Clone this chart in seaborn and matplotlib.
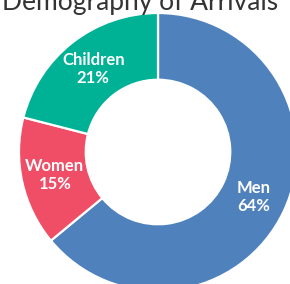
import numpy as np
import matplotlib
matplotlib.use("Agg")
import matplotlib.pyplot as plt
import seaborn as sns


# -----------------------
# data
# -----------------------

groups = ["Men", "Women", "Children"]
shares = [64, 15, 21]
colors = ["#4f81bd", "#f04d66", "#00b295"]

TITLE = "Demography of Arrivals"


def main():

    sns.set_theme(style="white")
    plt.rcParams["font.family"] = ["Lato", "DejaVu Sans"]

    fig = plt.figure(figsize=(2.90, 2.84), dpi=100)

    ax = fig.add_axes([0, 0, 1, 1])

    wedges, _ = ax.pie(
        shares,
        colors=colors,
        startangle=90,
        counterclock=False,
        radius=1,
        wedgeprops=dict(width=0.48, edgecolor="white", linewidth=1.6),
    )

    # center of the donut sits at (158, 152) px, outer radius 139 px
    ax.set_aspect("auto")
    ax.set_xlim(-158 / 139, (290 - 158) / 139)
    ax.set_ylim(-(284 - 152) / 139, 152 / 139)
    ax.axis("off")

    total = sum(shares)

    for w, name, val in zip(wedges, groups, shares):
        mid = np.deg2rad((w.theta1 + w.theta2) / 2)
        r = 0.76
        ax.text(
            r * np.cos(mid),
            r * np.sin(mid),
            f"{name}\n{round(100 * val / total)}%",
            ha="center",
            va="center",
            color="white",
            fontsize=12,
            fontweight="bold",
            linespacing=1.15,
        )

    fig.text(
        140 / 290,
        1 - 10 / 284,
        TITLE,
        ha="center",
        va="baseline",
        fontsize=19,
        color="#333333",
    )

    fig.savefig("out.png", dpi=100)
    plt.close(fig)


if __name__ == "__main__":
    main()
